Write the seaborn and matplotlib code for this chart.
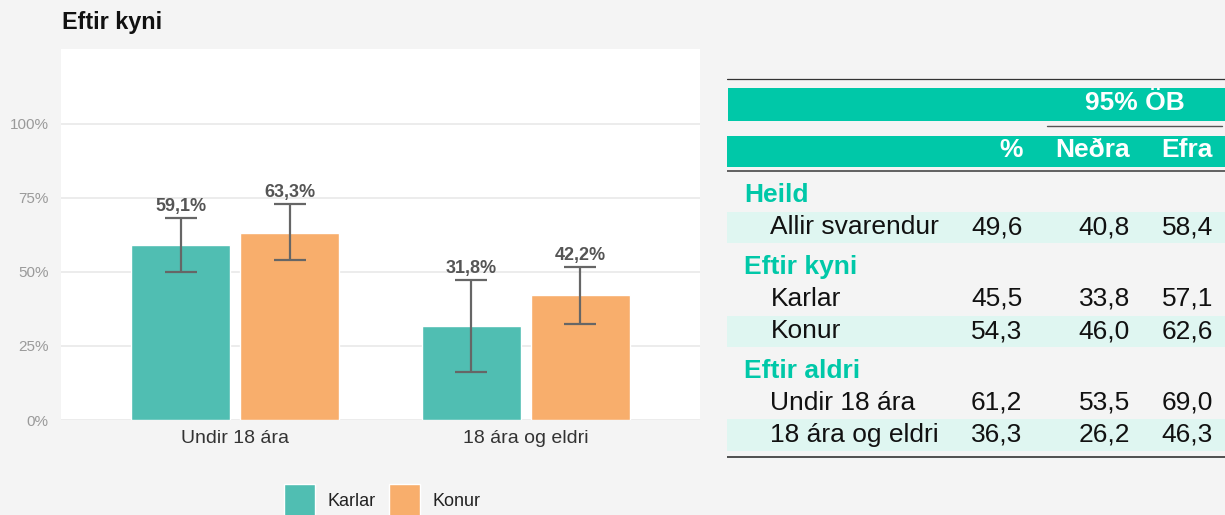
import numpy as np
import pandas as pd
import matplotlib
matplotlib.use("Agg")
import matplotlib.pyplot as plt
from matplotlib.patches import Patch, Rectangle
import seaborn as sns

# --- Bar chart data: share by sex within age group, with 95% CI ---
age_groups = ["Undir 18 ára", "18 ára og eldri"]
sexes = ["Karlar", "Konur"]
karlar_pct = [59.1, 31.8]
karlar_low = [50.1, 16.2]
karlar_high = [68.3, 47.4]
konur_pct = [63.3, 42.2]
konur_low = [53.9, 32.5]
konur_high = [72.9, 51.8]
y_ticks = [0, 25, 50, 75, 100]
y_tick_labels = ["0%", "25%", "50%", "75%", "100%"]

# --- Summary table data ---
table_sections = ["Heild", "Eftir kyni", "Eftir aldri"]
table_rows = [["Allir svarendur"], ["Karlar", "Konur"], ["Undir 18 ára", "18 ára og eldri"]]
table_pct = [[49.6], [45.5, 54.3], [61.2, 36.3]]
table_low = [[40.8], [33.8, 46.0], [53.5, 26.2]]
table_high = [[58.4], [57.1, 62.6], [69.0, 46.3]]
table_header = ["%", "Neðra", "Efra"]
table_ci_title = "95% ÖB"

# --- Styling ---
BG = "#f4f4f4"
TEAL_BAR = "#50beb2"
ORANGE_BAR = "#f8ae6c"
TEAL = "#00c8a8"
LIGHT_BAND = "#dff6f1"
ERR = "#666666"

sns.set_theme(style="white")
plt.rcParams["font.family"] = ["Liberation Sans", "DejaVu Sans"]


def fmt(v):
    return f"{v:.1f}".replace(".", ",")


W, H = 1225, 515
fig = plt.figure(figsize=(W / 100, H / 100), dpi=100, facecolor=BG)

# Bar panel
ax = fig.add_axes([61 / W, 1 - 420 / H, (700 - 61) / W, (420 - 49) / H])
ax.set_facecolor("white")

df = pd.DataFrame({
    "aldur": age_groups * 2,
    "kyn": [sexes[0]] * len(age_groups) + [sexes[1]] * len(age_groups),
    "pct": karlar_pct + konur_pct,
    "low": karlar_low + konur_low,
    "high": karlar_high + konur_high,
})

sns.barplot(data=df, x="aldur", y="pct", hue="kyn", order=age_groups,
            hue_order=sexes, palette=[TEAL_BAR, ORANGE_BAR], saturation=1,
            width=0.75, gap=0.092, errorbar=None, legend=False, ax=ax, zorder=2)

for container, sex in zip(ax.containers, sexes):
    sub = df[df["kyn"] == sex].set_index("aldur").loc[age_groups]
    xs = [b.get_x() + b.get_width() / 2 for b in container]
    pct = sub["pct"].to_numpy()
    low = sub["low"].to_numpy()
    high = sub["high"].to_numpy()
    ax.errorbar(xs, pct, yerr=[pct - low, high - pct], fmt="none",
                ecolor=ERR, elinewidth=1.6, capsize=11.5, capthick=1.6, zorder=3)
    for x, v, hi in zip(xs, pct, high):
        ax.annotate(fmt(v) + "%", (x, hi), xytext=(0, 5), textcoords="offset points",
                    ha="center", va="baseline", fontsize=13, fontweight="bold",
                    color="#555555", zorder=4)

ax.set_xlim(-0.6, 1.6)
ax.set_ylim(0, 125.3)
ax.set_yticks(y_ticks)
ax.set_yticklabels(y_tick_labels)
ax.yaxis.grid(True, color="#ebebeb", linewidth=1.3, zorder=0)
ax.set_axisbelow(True)
ax.set_xlabel("")
ax.set_ylabel("")
for s in ax.spines.values():
    s.set_visible(False)
ax.tick_params(axis="y", length=0, pad=9, labelsize=11, labelcolor="#9a9a9a")
ax.tick_params(axis="x", length=0, pad=7, labelsize=14, labelcolor="#333333")

fig.text(62 / W, 1 - 28.5 / H, "Eftir kyni", fontsize=16.8, fontweight="bold",
         color="#111111", va="baseline", ha="left")

fig.legend(handles=[Patch(facecolor=TEAL_BAR), Patch(facecolor=ORANGE_BAR)],
           labels=sexes, loc="center", bbox_to_anchor=(382 / W, 1 - 500 / H),
           ncol=2, frameon=False, fontsize=13, handlelength=1.75, handleheight=2.4,
           handletextpad=0.65, columnspacing=0.75, labelcolor="#222222",
           borderaxespad=0, borderpad=0)

# Summary table, laid out in pixel coordinates
tx0 = 727
tab = fig.add_axes([tx0 / W, 0, (W - tx0) / W, 1])
tab.set_xlim(tx0, W)
tab.set_ylim(H, 0)
tab.set_axis_off()

FS = 19
col_right = [1022.5, 1130, 1213]
label_x = 770.5
section_x = 744

tab.plot([tx0, W], [79.3, 79.3], color="#333333", lw=0.9)
tab.add_patch(Rectangle((tx0 + 1, 88.3), W - tx0, 32.4, color=TEAL, lw=0))
tab.text(1135, 110.5, table_ci_title, color="white", fontsize=FS, fontweight="bold",
         ha="center", va="baseline")
tab.plot([1047.5, 1221.7], [126, 126], color="#555555", lw=1.0)
tab.add_patch(Rectangle((tx0, 135.7), W - tx0, 31, color=TEAL, lw=0))
for x, h in zip(col_right, table_header):
    tab.text(x, 157.2, h, color="white", fontsize=FS, fontweight="bold",
             ha="right", va="baseline")
tab.plot([tx0, W], [170.8, 170.8], color="#555555", lw=1.3)

y = 202
row_i = 0
for si, (sec, rows) in enumerate(zip(table_sections, table_rows)):
    if si > 0:
        y += 39.5
    tab.text(section_x, y, sec, color=TEAL, fontsize=FS, fontweight="bold",
             ha="left", va="baseline")
    for ri, name in enumerate(rows):
        y += 32.2
        if row_i % 2 == 0:
            tab.add_patch(Rectangle((tx0, y - 22.5), W - tx0, 31.7,
                                    color=LIGHT_BAND, lw=0, zorder=0))
        vals = [table_pct[si][ri], table_low[si][ri], table_high[si][ri]]
        tab.text(label_x, y, name, color="#111111", fontsize=FS,
                 ha="left", va="baseline")
        for x, v in zip(col_right, vals):
            tab.text(x, y, fmt(v), color="#111111", fontsize=FS,
                     ha="right", va="baseline")
        row_i += 1

tab.plot([tx0, W], [456.7, 456.7], color="#333333", lw=1.2)

fig.savefig("out.png", dpi=100, facecolor=BG)
